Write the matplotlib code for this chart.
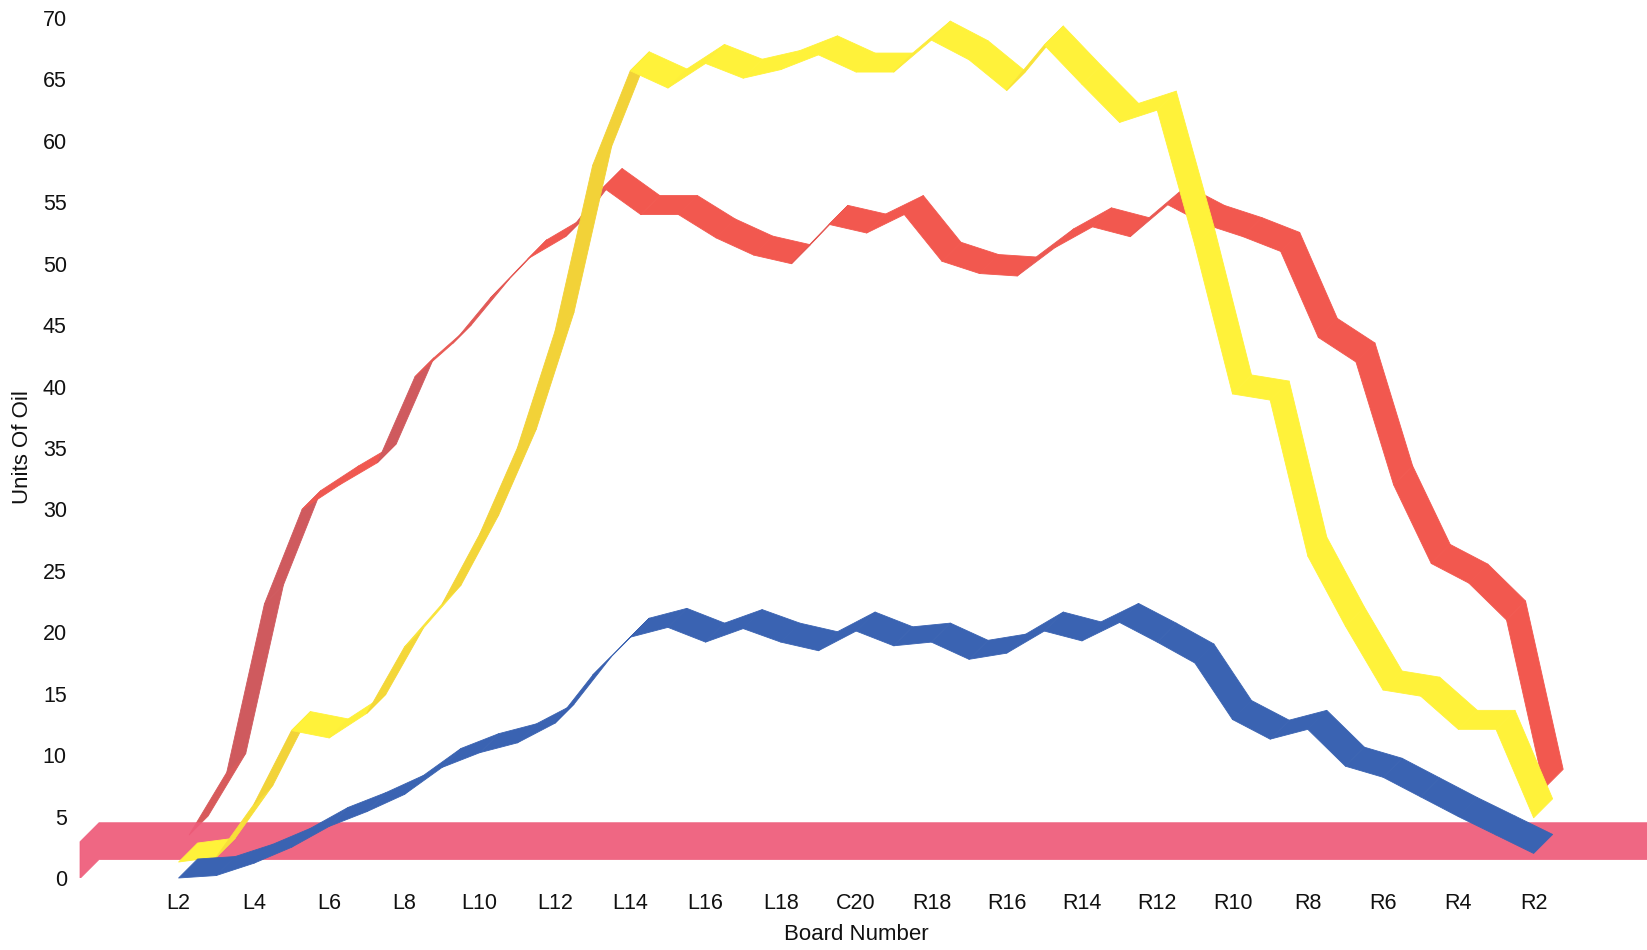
import numpy as np
import matplotlib
matplotlib.use("Agg")
import matplotlib.pyplot as plt
from matplotlib.collections import PolyCollection
from matplotlib.colors import to_rgb

plt.rcParams['font.family'] = ['Liberation Sans', 'DejaVu Sans']

# ---------------- data ----------------
boards = ['L%d' % n for n in range(2, 20)] + ['C20'] + ['R%d' % n for n in range(19, 1, -1)]

series_blue = [0.0, 0.2, 1.2, 2.5, 4.2, 5.4, 6.8, 9.0, 10.2, 11.0, 12.6, 16.5, 19.6, 20.4, 19.2, 20.3, 19.2, 18.5,
               20.1,
               18.9, 19.2, 17.8, 18.3, 20.1, 19.3, 20.8, 19.2, 17.5, 12.9, 11.3, 12.1, 9.1, 8.2, 6.6, 5.0, 3.5, 2.0]

series_red = [3.5, 8.6, 22.3, 30.0, 32.0, 33.8, 40.8, 43.5, 47.2, 50.4, 52.2, 56.2, 54.0, 54.0, 52.1, 50.7, 50.0, 53.2,
              52.5,
              54.0, 50.2, 49.2, 49.0, 51.3, 53.0, 52.2, 54.8, 53.2, 52.2, 51.0, 44.0, 42.0, 32.0, 25.6, 24.0, 21.0, 7.3]

series_yellow = [1.3, 1.7, 6.0, 12.0, 11.4, 13.4, 18.8, 22.3, 28.0, 35.0, 44.5, 58.0, 65.7, 64.3, 66.3, 65.1, 65.8, 67.0,
                 65.6,
                 65.6, 68.2, 66.6, 64.1, 67.8, 64.6, 61.5, 62.5, 51.5, 39.4, 38.9, 26.2, 20.5, 15.3, 14.8, 12.1, 12.1, 4.9]

threshold = 3.0

y_ticks = list(range(0, 75, 5))
x_tick_labels = boards[::2]

# ---------------- layout ----------------
W, H = 1647, 950
X0_PX, PX_PER_BOARD = 178.6, 37.64
Y0_PX, Y70_PX = 878.0, 18.0
PX_PER_UNIT = (Y0_PX - Y70_PX) / 70.0
XLIM = (-2.75, 39.0)

fig = plt.figure(figsize=(W / 100, H / 100), dpi=100)
fig.patch.set_facecolor('white')
left_px = X0_PX + PX_PER_BOARD * XLIM[0]
right_px = X0_PX + PX_PER_BOARD * XLIM[1]
ax = fig.add_axes([left_px / W, 1 - Y0_PX / H, (right_px - left_px) / W, (Y0_PX - Y70_PX) / H])
ax.set_xlim(*XLIM)
ax.set_ylim(0, 70)
for s in ax.spines.values():
    s.set_visible(False)

# 3-D ribbon depth (in data units)
DEPTH_PX = 19.0
DX = DEPTH_PX / PX_PER_BOARD
DV = DEPTH_PX / PX_PER_UNIT


def mix(c1, c2, t):
    a, b = np.array(to_rgb(c1)), np.array(to_rgb(c2))
    return tuple(a * (1 - t) + b * t)


def ribbon(vals, shift, base, rising, z):
    xs = np.arange(len(vals)) + shift
    polys, cols = [], []
    for i in range(len(vals) - 1):
        x0, x1 = xs[i], xs[i + 1]
        v0, v1 = vals[i], vals[i + 1]
        polys.append([(x0, v0), (x1, v1), (x1 + DX, v1 + DV), (x0 + DX, v0 + DV)])
        slope = (v1 - v0) * PX_PER_UNIT / PX_PER_BOARD
        t = float(np.clip((slope - 0.5) / 1.5, 0, 1))
        cols.append(mix(base, rising, t))
    pc = PolyCollection(polys, facecolors=cols, edgecolors=cols, linewidths=0.6,
                        zorder=z, clip_on=False)
    ax.add_collection(pc)


# red ribbon (sits slightly further back)
ribbon(series_red, 0.28, '#F2584F', '#CF5A5E', 2)

# pink threshold band with its end cap
xl = -2.62
band_lo, band_hi = threshold - 1.5, threshold + 1.5
pink = [(xl, band_lo - DV), (xl, band_hi - DV), (xl + DX, band_hi), (40.5, band_hi),
        (40.5, band_lo), (xl + DX, band_lo)]
ax.add_patch(plt.Polygon(pink, closed=True, facecolor='#EE5B7A', edgecolor='#EE5B7A',
                         linewidth=0.5, alpha=0.93, zorder=3))

ribbon(series_yellow, 0.0, '#FFF23A', '#F2D238', 4)
ribbon(series_blue, 0.0, '#3A63B2', '#3A60AE', 5)

# ---------------- axes text ----------------
ax.set_yticks(y_ticks)
ax.set_yticklabels([str(v) for v in y_ticks])
ax.set_xticks(np.arange(0, len(boards), 2))
ax.set_xticklabels(x_tick_labels)
ax.tick_params(axis='y', length=0, pad=6, labelsize=15.5, labelcolor='#111111')
ax.tick_params(axis='x', length=0, pad=11, labelsize=15.5, labelcolor='#111111')

fig.text(23 / W, 1 - 447 / H, 'Units Of Oil', rotation=90, ha='center', va='center',
         fontsize=16, color='#111111')
fig.text(856 / W, 1 - 934 / H, 'Board Number', ha='center', va='center',
         fontsize=16, color='#111111')

fig.savefig('out.png', dpi=100, facecolor='white')
